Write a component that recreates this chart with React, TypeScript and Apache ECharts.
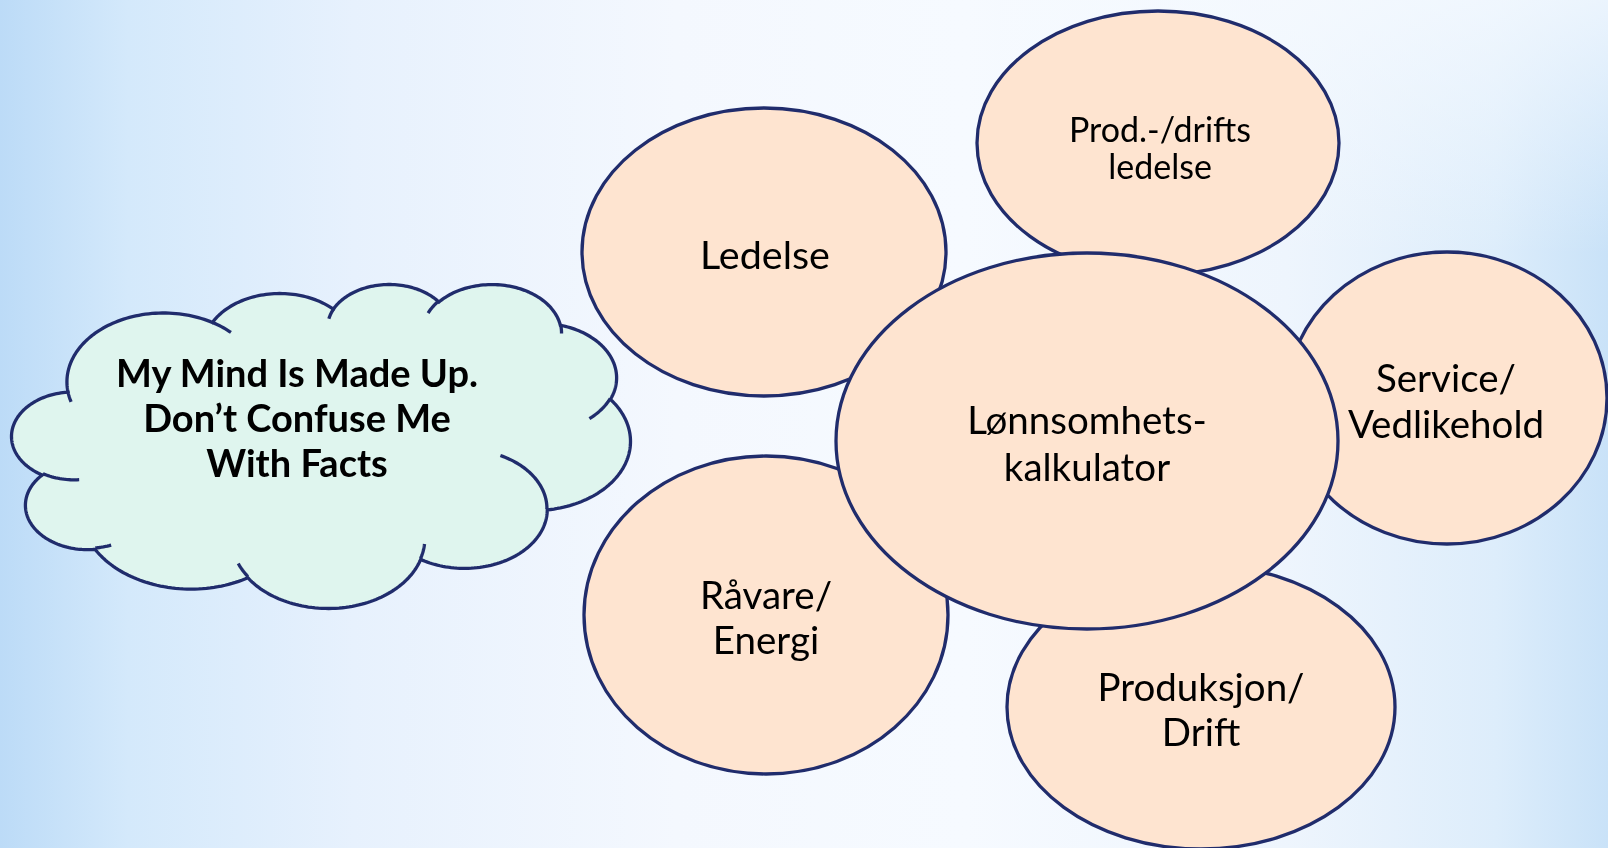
import React, { useEffect, useRef } from "react";
import * as echarts from "echarts";

// ---- content ----
const nodeLabels: string[][] = [
  ["Ledelse"],
  ["Prod.-/drifts", "ledelse"],
  ["Service/", "Vedlikehold"],
  ["Råvare/", "Energi"],
  ["Produksjon/", "Drift"],
  ["Lønnsomhets-", "kalkulator"],
];
const cloudLines: string[] = ["My Mind Is Made Up.", "Don’t Confuse Me", "With Facts"];

// ---- layout (px) ----
const nodeLayout = [
  { cx: 764, cy: 252, rx: 182, ry: 144, tx: 765, baselines: [268], size: 39.5 },
  { cx: 1158, cy: 143, rx: 181, ry: 132, tx: 1160, baselines: [141, 178], size: 34 },
  { cx: 1447, cy: 398, rx: 160, ry: 146, tx: 1446, baselines: [391, 437], size: 38.5 },
  { cx: 766, cy: 615, rx: 182, ry: 159, tx: 766, baselines: [608, 653], size: 38.5 },
  { cx: 1201, cy: 707, rx: 194, ry: 142, tx: 1201, baselines: [700, 745], size: 38.5 },
  { cx: 1087, cy: 441, rx: 251, ry: 188, tx: 1087, baselines: [433, 480], size: 38.5 },
];
const cloudBox = { x0: 11.5, x1: 630.5, y0: 284.5, y1: 608.5 };
const cloudText = { x: 297, baselines: [386, 431, 476], size: 38 };

const STROKE = "#202C6C";
const PEACH = "#FEE4D0";
const MINT = "#DFF5EE";
const FONT = "Lato, 'Noto Sans', sans-serif";
const LW = 3.3;

// PowerPoint preset "cloud" geometry (43200 x 43200 path space)
const cloudStart: [number, number] = [3900, 14370];
const cloudArcs: number[][] = [
  [6753, 9190, -11429249, 7426832],
  [5333, 7267, -8646143, 5396714],
  [4365, 5945, -8748475, 5983381],
  [4857, 6595, -7859164, 7034504],
  [5333, 7273, -4722533, 6541615],
  [6775, 9220, -2776035, 7816140],
  [5785, 7867, 37501, 6842000],
  [6752, 9215, 1347096, 6910353],
  [7720, 10543, 3974558, 4542661],
  [4360, 5918, -16496525, 8804134],
  [4345, 5945, -14809710, 9151131],
];
const cloudInner: number[][] = [
  [4693, 26177, 4345, 5945, 5204520, 1585770],
  [6928, 34899, 4360, 5918, 4416628, 686848],
  [16478, 39090, 6752, 9215, 8257449, 844866],
  [28827, 34751, 6752, 9215, 387196, 959901],
  [34129, 22954, 5785, 7867, -4217541, 4255042],
  [41798, 15354, 5333, 7273, 1819082, 1665090],
  [38324, 5426, 4857, 6595, -824660, 891534],
  [29078, 3952, 4857, 6595, -8950887, 1091722],
  [22141, 4720, 4365, 5945, -9809656, 1061181],
  [14000, 5192, 6753, 9190, -4002417, 739161],
  [4127, 15789, 6753, 9190, 9459261, 711490],
];

function arcPts(start: number[], wR: number, hR: number, stAng: number, swAng: number): number[][] {
  const st = (stAng / 60000) * (Math.PI / 180);
  const sw = (swAng / 60000) * (Math.PI / 180);
  const onE = (th: number) => {
    const c = Math.cos(th), s = Math.sin(th);
    const r = 1 / Math.sqrt((c / wR) ** 2 + (s / hR) ** 2);
    return [r * c, r * s];
  };
  const p0 = onE(st);
  const cx = start[0] - p0[0], cy = start[1] - p0[1];
  const n = Math.max(2, Math.ceil(Math.abs(sw) / (Math.PI / 120)));
  const out: number[][] = [];
  for (let i = 1; i <= n; i++) {
    const p = onE(st + (sw * i) / n);
    out.push([cx + p[0], cy + p[1]]);
  }
  return out;
}

function buildCloud() {
  let cur: number[] = cloudStart;
  const outer: number[][] = [cloudStart];
  cloudArcs.forEach(([w, h, s, sw]) => {
    const pts = arcPts(cur, w, h, s, sw);
    outer.push(...pts);
    cur = pts[pts.length - 1];
  });
  const inner = cloudInner.map(([x, y, w, h, s, sw]) => [[x, y], ...arcPts([x, y], w, h, s, sw)]);
  let minX = Infinity, maxX = -Infinity, minY = Infinity, maxY = -Infinity;
  outer.forEach(([x, y]) => {
    minX = Math.min(minX, x); maxX = Math.max(maxX, x);
    minY = Math.min(minY, y); maxY = Math.max(maxY, y);
  });
  const sx = (cloudBox.x1 - cloudBox.x0) / (maxX - minX);
  const sy = (cloudBox.y1 - cloudBox.y0) / (maxY - minY);
  const tf = (p: number[]) => [cloudBox.x0 + (p[0] - minX) * sx, cloudBox.y0 + (p[1] - minY) * sy];
  return { outer: outer.map(tf), inner: inner.map((a) => a.map(tf)) };
}

export default function App() {
  const ref = useRef<HTMLDivElement>(null);
  useEffect(() => {
    if (!ref.current) return;
    const chart = echarts.init(ref.current, undefined, { renderer: "svg" });
    const cloud = buildCloud();
    const els: any[] = [];
    let z = 0;
    els.push({
      type: "rect",
      z: z++,
      shape: { x: 0, y: 0, width: 1608, height: 848 },
      style: {
        fill: {
          type: "linear", x: 0, y: 0, x2: 1, y2: 0,
          colorStops: [
            { offset: 0, color: "#BCDBF7" },
            { offset: 0.08, color: "#D4E9FB" },
            { offset: 0.22, color: "#E7F1FD" },
            { offset: 0.42, color: "#F4F8FE" },
            { offset: 0.6, color: "#F6FAFF" },
            { offset: 0.8, color: "#EEF5FD" },
            { offset: 0.93, color: "#DDEDFB" },
            { offset: 1, color: "#C9E2F8" },
          ],
        },
      },
      silent: true,
    });
    els.push({
      type: "rect",
      z: z++,
      shape: { x: 1000, y: 0, width: 608, height: 848 },
      style: {
        fill: {
          type: "linear", x: 0, y: 0, x2: 0, y2: 1,
          colorStops: [
            { offset: 0, color: "rgba(246,250,255,0.75)" },
            { offset: 0.3, color: "rgba(246,250,255,0)" },
            { offset: 1, color: "rgba(246,250,255,0)" },
          ],
        },
      },
      silent: true,
    });
    // cloud
    els.push({
      type: "polygon",
      z: z++,
      shape: { points: cloud.outer },
      style: { fill: MINT, stroke: STROKE, lineWidth: LW },
    });
    cloud.inner.forEach((pts) => {
      els.push({
        type: "polyline",
        z: z++,
        shape: { points: pts },
        style: { fill: null, stroke: STROKE, lineWidth: LW },
      });
    });
    cloudLines.forEach((line, i) => {
      els.push({
        type: "text",
        z: z++,
        x: cloudText.x,
        y: cloudText.baselines[i] - 0.37 * cloudText.size,
        style: {
          text: line,
          fill: "#000",
          fontSize: cloudText.size,
          fontWeight: "bold",
          fontFamily: FONT,
          align: "center",
          verticalAlign: "middle",
        },
      });
    });
    // ellipses
    nodeLabels.forEach((lines, k) => {
      const L = nodeLayout[k];
      els.push({
        type: "ellipse",
        z: z++,
        shape: { cx: L.cx, cy: L.cy, rx: L.rx, ry: L.ry },
        style: { fill: PEACH, stroke: STROKE, lineWidth: LW },
      });
      lines.forEach((line, i) => {
        els.push({
          type: "text",
          z: z++,
          x: L.tx,
          y: L.baselines[i] - 0.37 * L.size,
          style: {
            text: line,
            fill: "#000",
            fontSize: L.size,
            fontFamily: FONT,
            align: "center",
            verticalAlign: "middle",
          },
        });
      });
    });
    chart.setOption({ animation: false, graphic: { elements: els } });
    return () => chart.dispose();
  }, []);
  return (
    <div
      ref={ref}
      style={{ position: "fixed", left: 0, top: 0, width: 1608, height: 848 }}
    />
  );
}
